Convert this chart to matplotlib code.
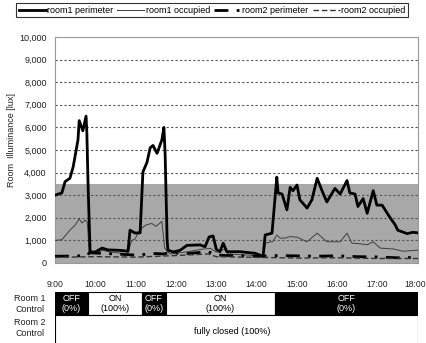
import numpy as np
import matplotlib
matplotlib.use("Agg")
import matplotlib.pyplot as plt
import matplotlib.transforms as mtransforms
from matplotlib.ticker import FuncFormatter

plt.rcParams['font.family'] = ['Liberation Sans Narrow', 'Liberation Sans', 'DejaVu Sans']

# illuminance readings, time in decimal hours
r1_perim_t = [9.0, 9.17, 9.25, 9.37, 9.45, 9.57, 9.60, 9.69, 9.77, 9.79, 9.82, 9.87,
              9.99, 10.17, 10.31, 10.61, 10.81, 10.86, 10.98, 11.11, 11.18, 11.28,
              11.36, 11.43, 11.53, 11.65, 11.70, 11.73, 11.78, 11.80, 11.93, 12.10,
              12.27, 12.60, 12.72, 12.82, 12.92, 13.00, 13.09, 13.17, 13.26, 13.59,
              13.96, 14.16, 14.21, 14.38, 14.50, 14.53, 14.63, 14.75, 14.83, 14.90,
              15.00, 15.07, 15.25, 15.37, 15.50, 15.62, 15.74, 15.94, 16.07, 16.24,
              16.31, 16.44, 16.51, 16.64, 16.74, 16.89, 16.98, 17.11, 17.31, 17.43,
              17.50, 17.73, 17.88, 18.0]
r1_perim = [3000, 3100, 3600, 3750, 4250, 5450, 6300, 5850, 6500, 5750, 3450, 500,
            480, 660, 580, 560, 520, 1450, 1330, 1330, 4030, 4450,
            5100, 5200, 4850, 5450, 6000, 4850, 1000, 570, 490, 560,
            780, 800, 720, 1150, 1200, 600, 500, 880, 500, 500,
            430, 300, 1240, 1320, 3800, 3100, 3050, 2350, 3350, 3200,
            3450, 2800, 2430, 2800, 3750, 3200, 2700, 3300, 3050, 3650,
            3100, 3050, 2500, 2850, 2200, 3200, 2560, 2560, 2000, 1700,
            1450, 1300, 1360, 1330]

r1_occ_t = [9.0, 9.17, 9.37, 9.50, 9.60, 9.67, 9.75, 9.80, 9.85, 10.0, 10.17, 10.4,
            10.8, 10.9, 10.98, 11.1, 11.25, 11.4, 11.5, 11.65, 11.72, 11.85, 12.3,
            12.6, 12.85, 13.0, 13.2, 13.3, 13.8, 14.15, 14.22, 14.4, 14.5, 14.58,
            14.7, 14.83, 15.0, 15.25, 15.5, 15.74, 16.07, 16.24, 16.36, 16.56,
            16.74, 16.89, 17.06, 17.39, 17.63, 18.0]
r1_occ = [1000, 1030, 1450, 1680, 1950, 1770, 1900, 1800, 450, 420, 560, 480,
          400, 1000, 1050, 1460, 1680, 1750, 1620, 1840, 650, 400, 500,
          600, 650, 480, 600, 400, 350, 300, 880, 950, 1240, 1100,
          1100, 1170, 1140, 940, 1320, 940, 940, 1320, 880, 850,
          810, 940, 660, 620, 520, 570]

r2_perim_t = [9.0, 9.5, 9.8, 9.85, 10.5, 11.0, 11.5, 11.7, 11.8, 12.3, 12.8, 13.0,
              13.5, 14.0, 14.5, 15.5, 16.0, 16.5, 17.0, 17.5, 18.0]
r2_perim = [300, 310, 330, 450, 400, 350, 420, 400, 450, 420, 500, 350,
            320, 300, 330, 300, 320, 280, 270, 230, 250]

r2_occ_t = [9.0, 10.0, 11.0, 12.0, 12.8, 13.0, 14.0, 15.0, 16.0, 17.0, 18.0]
r2_occ = [250, 280, 260, 330, 400, 280, 250, 220, 230, 200, 200]

# blind control schedule for room 1
r1_start = [9.0, 9.82, 11.16, 11.75, 14.455]
r1_end = [9.82, 11.16, 11.75, 14.455, 18.0]
r1_state = ["OFF\n(0%)", "ON\n(100%)", "OFF\n(0%)", "ON\n(100%)", "OFF\n(0%)"]
r1_on = [False, True, False, True, False]

fig = plt.figure(figsize=(4.27, 3.43), dpi=100)
W, H = 427, 343
ax = fig.add_axes([55 / W, 1 - 263 / H, 363 / W, 226 / H])

ax.axhspan(0, 3500, color="#a8a8a8", zorder=0, lw=0)
ax.plot(r1_perim_t, r1_perim, color="black", lw=2.0, label="room1 perimeter", zorder=4)
ax.plot(r1_occ_t, r1_occ, color="#404040", lw=0.7, label="room1 occupied", zorder=3)
ax.plot(r2_perim_t, r2_perim, color="black", lw=2.0, linestyle=(0, (5, 3, 1, 3)),
        label="room2 perimeter", zorder=3)
ax.plot(r2_occ_t, r2_occ, color="#333333", lw=1.0, linestyle=(0, (4, 2)),
        label="room2 occupied", zorder=3)

ax.set_xlim(9, 18)
ax.set_ylim(0, 10000)
ax.set_yticks(range(0, 10001, 1000))
ax.yaxis.set_major_formatter(FuncFormatter(lambda v, p: f"{int(v):,}"))
ax.set_xticks(range(9, 19))
ax.set_xticklabels([f"{h}:00" for h in range(9, 19)])
ax.tick_params(axis="both", length=0, labelsize=6.5, colors="#222222")
ax.tick_params(axis="x", pad=12, labelsize=6.2)
ax.tick_params(axis="y", pad=6)
# nudge the 18:00 label so it stays inside the figure
last = ax.get_xticklabels()[-1]
last.set_transform(last.get_transform() +
                   mtransforms.ScaledTranslation(-3 / 100, 0, fig.dpi_scale_trans))
for y in range(1000, 10000, 1000):
    ax.axhline(y, color="#555555", lw=0.8, linestyle=(0, (2, 2)), zorder=1)
for s in ax.spines.values():
    s.set_color("#999999")
    s.set_linewidth(0.8)

fig.text(12 / W, 1 - 140 / H, "Room  Illuminance [lux]", rotation=90,
         ha="center", va="center", fontsize=6.5, color="#222222")

leg = fig.legend(loc="upper center", bbox_to_anchor=(212 / W, 1 - 3 / H), ncol=4,
                 fontsize=6.5, frameon=True, fancybox=False, handlelength=3.0,
                 handletextpad=0.15, columnspacing=0.45, borderpad=0.3,
                 borderaxespad=0)
leg.get_frame().set_edgecolor("black")
leg.get_frame().set_linewidth(0.8)

# control table under the chart
ax2 = fig.add_axes([55 / W, 1 - 350 / H, 363 / W, 58 / H])
ax2.set_xlim(9, 18)
ax2.set_ylim(0, 58)
ax2.axis("off")
for s0, s1, txt, on in zip(r1_start, r1_end, r1_state, r1_on):
    ax2.bar(s0, 23, width=s1 - s0, bottom=35, align="edge",
            color="white" if on else "black", edgecolor="black", lw=0.8)
    ax2.text((s0 + s1) / 2, 46.5, txt, ha="center", va="center", fontsize=6.5,
             color="black" if on else "white", linespacing=1.2)
ax2.bar(9, 35, width=9, bottom=0, align="edge", color="white",
        edgecolor="black", lw=0.8)
ax2.text(13.4, 18, "fully closed (100%)", ha="center", va="center", fontsize=6.5)

fig.text(45 / W, 1 - 304 / H, "Room 1\nControl", ha="right", va="center",
         fontsize=6.5, linespacing=1.3, color="#222222")
fig.text(45 / W, 1 - 328 / H, "Room 2\nControl", ha="right", va="center",
         fontsize=6.5, linespacing=1.3, color="#222222")

fig.savefig("out.png", dpi=100)
